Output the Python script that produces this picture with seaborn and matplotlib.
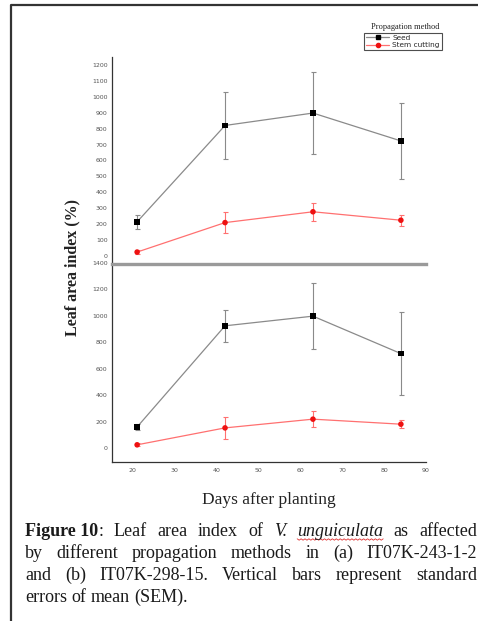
import matplotlib
matplotlib.use('Agg')
import matplotlib.pyplot as plt
import pandas as pd
import seaborn as sns
from matplotlib.lines import Line2D
from matplotlib.ticker import MultipleLocator

# data
days = [21, 42, 63, 84]
methods = ['Seed', 'Stem cutting']

# (a) IT07K-243-1-2
seed_a = [215, 820, 898, 723]
seed_a_sem = [45, 210, 258, 238]
stem_a = [25, 210, 278, 225]
stem_a_sem = [10, 68, 56, 35]

# (b) IT07K-298-15
seed_b = [160, 925, 998, 715]
seed_b_sem = [25, 120, 247, 317]
stem_b = [25, 153, 219, 181]
stem_b_sem = [10, 83, 58, 30]

line_colors = {'Seed': '#8a8a8a', 'Stem cutting': '#ff7070'}
mark_colors = {'Seed': '#000000', 'Stem cutting': '#ee1111'}
mark_shapes = {'Seed': 's', 'Stem cutting': 'o'}

W, H = 478, 621


def fx(px):
    return px / W


def fy(py):
    return 1 - py / H


def make_df(seed, seed_sem, stem, stem_sem):
    return pd.DataFrame({
        'day': days * 2,
        'lai': seed + stem,
        'sem': seed_sem + stem_sem,
        'method': ['Seed'] * len(days) + ['Stem cutting'] * len(days),
    })


def draw_panel(ax, df):
    sns.lineplot(data=df, x='day', y='lai', hue='method', palette=line_colors,
                 linewidth=0.9, legend=False, ax=ax, zorder=2)
    for m in methods:
        sub = df[df['method'] == m]
        ax.errorbar(sub['day'], sub['lai'], yerr=sub['sem'], fmt='none',
                    ecolor=line_colors[m], elinewidth=0.8, capsize=1.8,
                    capthick=0.8, zorder=1)
    sns.scatterplot(data=df, x='day', y='lai', hue='method', style='method',
                    palette=mark_colors, markers=mark_shapes, s=16,
                    edgecolor='none', legend=False, ax=ax, zorder=3)
    ax.set_xlabel('')
    ax.set_ylabel('')
    ax.set_xlim(15, 90)
    ax.patch.set_alpha(0)
    for s in ['top', 'right']:
        ax.spines[s].set_visible(False)
    ax.spines['left'].set_color('#333333')
    ax.spines['left'].set_linewidth(0.9)
    ax.tick_params(axis='y', which='major', length=2.2, width=0.6,
                   labelsize=4.5, labelcolor='#555555', color='#333333', pad=1)
    ax.tick_params(axis='y', which='minor', length=1.2, width=0.5,
                   color='#333333')


sns.set_style('white')
plt.rcParams['font.family'] = ['DejaVu Sans']

fig = plt.figure(figsize=(W / 100, H / 100), dpi=100)
ax2 = fig.add_axes([fx(112), fy(462), fx(314), 199 / H])
ax1 = fig.add_axes([fx(112), fy(264), fx(314), 207 / H])

draw_panel(ax1, make_df(seed_a, seed_a_sem, stem_a, stem_a_sem))
draw_panel(ax2, make_df(seed_b, seed_b_sem, stem_b, stem_b_sem))

# top panel
ax1.set_ylim(-50, 1250)
ax1.set_yticks(range(0, 1201, 100))
ax1.yaxis.set_minor_locator(MultipleLocator(50))
ax1.set_xticks([])
ax1.spines['bottom'].set_color('#9a9a9a')
ax1.spines['bottom'].set_linewidth(2.4)
ax1.spines['bottom'].set_zorder(5)

# bottom panel
ax2.set_ylim(-105, 1400)
ax2.set_yticks(range(0, 1401, 200))
ax2.yaxis.set_minor_locator(MultipleLocator(100))
ax2.set_xticks(range(20, 91, 10))
ax2.xaxis.set_minor_locator(MultipleLocator(5))
ax2.spines['bottom'].set_color('#333333')
ax2.spines['bottom'].set_linewidth(0.9)
ax2.tick_params(axis='x', which='major', length=2.2, width=0.6,
                labelsize=4.5, labelcolor='#555555', color='#333333', pad=2)
ax2.tick_params(axis='x', which='minor', length=1.2, width=0.5,
                color='#333333')
ax2.set_xlabel('Days after planting', fontsize=12.5,
               family='Liberation Serif', color='#222222', labelpad=14)

fig.text(fx(72), fy(267), 'Leaf area index (%)', rotation=90,
         ha='center', va='center', fontsize=11.5, family='Liberation Serif',
         fontweight='bold', color='#222222')

# legend
handles = [Line2D([], [], color=line_colors[m], lw=0.9, marker=mark_shapes[m],
                  markersize=3, markerfacecolor=mark_colors[m],
                  markeredgecolor=mark_colors[m]) for m in methods]
leg = fig.legend(handles, methods, loc='upper left',
                 bbox_to_anchor=(fx(364), fy(33)), fontsize=5.3,
                 frameon=True, fancybox=False, edgecolor='#222222',
                 borderpad=0.25, labelspacing=0.15, handlelength=3.2,
                 handletextpad=0.4, borderaxespad=0)
leg.get_frame().set_linewidth(0.8)
fig.text(fx(405), fy(27), 'Propagation method', ha='center', va='center',
         fontsize=6, family='Liberation Serif', color='#222222')

# page frame
fig.add_artist(Line2D([fx(11), fx(11), 1.0], [0.0, fy(5), fy(5)],
                      color='#333333', lw=1.6, transform=fig.transFigure))

# caption, justified
cap_lines = [
    [[('Figure 10', 'bold'), (':', 'normal')], [('Leaf', 'normal')],
     [('area', 'normal')], [('index', 'normal')], [('of', 'normal')],
     [('V.', 'italic')], [('unguiculata', 'italic')], [('as', 'normal')],
     [('affected', 'normal')]],
    [[('by', 'normal')], [('different', 'normal')],
     [('propagation', 'normal')], [('methods', 'normal')],
     [('in', 'normal')], [('(a)', 'normal')], [('IT07K-243-1-2', 'normal')]],
    [[('and', 'normal')], [('(b)', 'normal')], [('IT07K-298-15.', 'normal')],
     [('Vertical', 'normal')], [('bars', 'normal')],
     [('represent', 'normal')], [('standard', 'normal')]],
    [[('errors', 'normal')], [('of', 'normal')], [('mean', 'normal')],
     [('(SEM).', 'normal')]],
]
cap_y = [531, 553, 575, 597]
left_px, right_px = 25, 477

renderer = fig.canvas.get_renderer()
for li, (words, ypx) in enumerate(zip(cap_lines, cap_y)):
    pieces = []
    for w in words:
        wp = []
        for txt, sty in w:
            t = fig.text(0, fy(ypx), txt, fontsize=13,
                         family='Liberation Serif', color='#1a1a1a',
                         va='center', ha='left',
                         fontweight='bold' if sty == 'bold' else 'normal',
                         fontstyle='italic' if sty == 'italic' else 'normal')
            ext = t.get_window_extent(renderer)
            wp.append((t, ext.width, txt))
        pieces.append(wp)
    widths = [sum(p[1] for p in wp) for wp in pieces]
    if li < len(cap_lines) - 1:
        gap = (right_px - left_px - sum(widths)) / (len(pieces) - 1)
    else:
        gap = 4.5
    x = left_px
    for wp in pieces:
        for t, wdt, txt in wp:
            t.set_x(fx(x))
            if txt == 'unguiculata':
                n = 44
                xs = [fx(x + wdt * k / n) for k in range(n + 1)]
                ys = [fy(ypx + 8 + (1.2 if k % 2 else -0.2)) for k in range(n + 1)]
                fig.add_artist(Line2D(xs, ys, color='#e03030', lw=0.6,
                                      transform=fig.transFigure))
            x += wdt
        x += gap

fig.savefig('out.png', dpi=100)
